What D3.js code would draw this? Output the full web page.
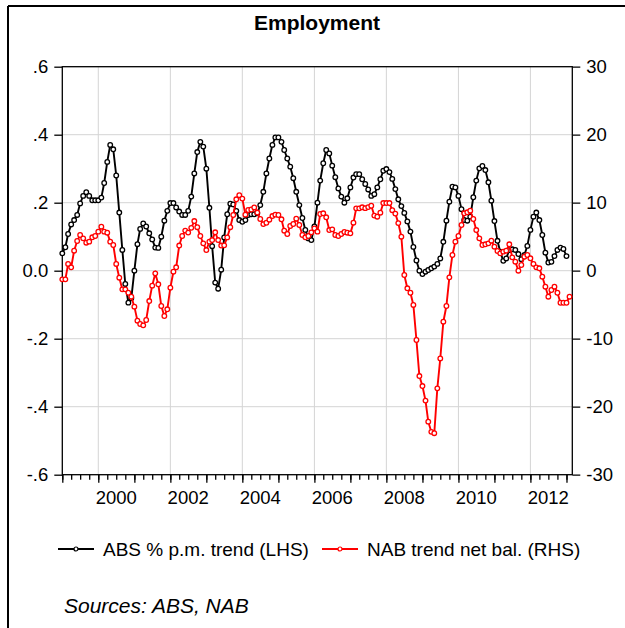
<!DOCTYPE html>
<html>
<head>
<meta charset="utf-8">
<script src="https://cdn.jsdelivr.net/npm/d3@7"></script>
<style>
  body { margin: 0; background: #fff; }
  svg { display: block; font-family: "Liberation Sans", Arial, sans-serif; }
</style>
</head>
<body>
<div id="chart"></div>
<script>
// monthly data, first observation Jan 1999
const startMonth = "1999-01";

// ABS employment, % per month, trend (left axis)
const absTrend = [
  0.051, 0.069, 0.108, 0.136, 0.149, 0.164, 0.198, 0.220, 0.231, 0.220, 0.207, 0.207,
  0.207, 0.215, 0.258, 0.320, 0.370, 0.357, 0.280, 0.171, 0.061, -0.039, -0.094, -0.081,
  0.000, 0.078, 0.123, 0.139, 0.130, 0.110, 0.092, 0.068, 0.067, 0.100, 0.147, 0.176,
  0.199, 0.199, 0.186, 0.174, 0.164, 0.164, 0.176, 0.218, 0.286, 0.349, 0.379, 0.365,
  0.300, 0.185, 0.072, -0.035, -0.053, 0.003, 0.098, 0.166, 0.197, 0.195, 0.176, 0.149,
  0.144, 0.149, 0.164, 0.166, 0.166, 0.169, 0.193, 0.232, 0.286, 0.330, 0.370, 0.392,
  0.392, 0.379, 0.355, 0.330, 0.306, 0.272, 0.232, 0.193, 0.155, 0.120, 0.095, 0.090,
  0.130, 0.200, 0.265, 0.316, 0.355, 0.345, 0.309, 0.275, 0.242, 0.218, 0.200, 0.213,
  0.245, 0.274, 0.284, 0.284, 0.269, 0.255, 0.239, 0.220, 0.225, 0.245, 0.269, 0.294,
  0.299, 0.290, 0.270, 0.240, 0.210, 0.190, 0.170, 0.145, 0.115, 0.070, 0.030, 0.000,
  -0.010, -0.003, 0.002, 0.007, 0.012, 0.020, 0.036, 0.085, 0.147, 0.203, 0.247, 0.245,
  0.220, 0.181, 0.149, 0.147, 0.159, 0.216, 0.265, 0.301, 0.308, 0.296, 0.260, 0.206,
  0.146, 0.088, 0.056, 0.029, 0.036, 0.061, 0.063, 0.061, 0.049, 0.034, 0.046, 0.073,
  0.120, 0.159, 0.171, 0.149, 0.105, 0.053, 0.024, 0.026, 0.043, 0.061, 0.068, 0.064,
  0.043
];

// NAB survey employment, trend net balance (right axis)
const nabTrend = [
  -1.27, -1.27, 0.99, 0.49, 2.94, 4.37, 5.25, 4.76, 4.12, 4.27, 4.91, 5.10,
  5.74, 6.47, 5.74, 5.59, 4.27, 3.78, 0.99, -1.03, -2.74, -2.74, -3.24, -3.82,
  -5.29, -7.35, -7.84, -8.04, -7.25, -4.46, -2.20, -0.39, -2.00, -5.19, -6.66, -5.68,
  -2.50, -0.15, 0.50, 3.70, 5.10, 5.90, 5.60, 6.30, 7.30, 6.40, 5.10, 4.02,
  3.04, 4.27, 4.51, 5.65, 4.51, 3.70, 3.73, 4.90, 6.40, 8.19, 10.50, 11.10,
  10.60, 8.24, 8.93, 9.00, 9.30, 8.55, 7.60, 6.85, 7.05, 7.50, 8.04, 8.24,
  8.19, 7.56, 5.88, 5.40, 6.57, 6.87, 7.65, 6.72, 5.25, 4.91, 5.10, 5.64,
  6.23, 5.74, 8.34, 8.44, 7.85, 5.98, 6.08, 5.25, 5.10, 5.40, 5.69, 5.59,
  5.49, 7.06, 9.17, 9.17, 9.32, 9.20, 9.35, 9.55, 8.10, 7.94, 8.53, 9.95,
  9.95, 9.95, 8.90, 8.40, 7.00, 5.00, -0.63, -2.59, -3.24, -5.04, -10.19, -15.49,
  -16.96, -19.10, -22.20, -23.70, -23.90, -17.30, -12.90, -7.50, -5.19, -0.98, 2.31, 4.27,
  5.10, 6.72, 8.44, 8.59, 8.82, 7.60, 5.98, 4.76, 3.78, 3.88, 4.02, 4.41,
  3.53, 2.90, 2.55, 2.80, 2.94, 3.88, 1.96, 1.32, 0.00, 0.84, 2.06, 2.31,
  1.82, 0.99, 0.49, 0.35, -0.88, -2.35, -3.82, -2.84, -2.35, -3.24, -4.71, -4.71,
  -4.71, -3.82
];

const leftTicks = [0.6, 0.4, 0.2, 0.0, -0.2, -0.4, -0.6];
const leftTickLabels = [".6", ".4", ".2", "0.0", "-.2", "-.4", "-.6"];
const rightTicks = [30, 20, 10, 0, -10, -20, -30];
const rightTickLabels = ["30", "20", "10", "0", "-10", "-20", "-30"];
const yearLabels = [2000, 2002, 2004, 2006, 2008, 2010, 2012];
const seriesNames = ["ABS % p.m. trend (LHS)", "NAB trend net bal. (RHS)"];
const seriesColors = ["#000000", "#ff0000"];

const W = 625, H = 628;
const plot = { left: 62.3, right: 572.3, top: 66.7, bottom: 474.7 };

const parseMonth = d3.timeParse("%Y-%m");
const start = parseMonth(startMonth);
const monthOf = i => d3.timeMonth.offset(start, i);

const svg = d3.select("#chart").append("svg")
  .attr("width", W).attr("height", H);

const x = d3.scaleTime()
  .domain([start, d3.timeMonth.offset(start, 170)])
  .range([plot.left, plot.right]);
const yL = d3.scaleLinear().domain([-0.6, 0.6]).range([plot.bottom, plot.top]);
const yR = d3.scaleLinear().domain([-30, 30]).range([plot.bottom, plot.top]);

// outer frame (top and left edges only visible)
svg.append("line").attr("x1", 8).attr("x2", W).attr("y1", 6).attr("y2", 6)
  .attr("stroke", "#000").attr("stroke-width", 2);
svg.append("line").attr("x1", 8).attr("x2", 8).attr("y1", 6).attr("y2", H)
  .attr("stroke", "#000").attr("stroke-width", 2);

// title
svg.append("text")
  .attr("x", 317).attr("y", 30)
  .attr("text-anchor", "middle")
  .style("font-size", "21px").style("font-weight", "bold")
  .text("Employment");

// grid
const grid = svg.append("g").attr("stroke", "#d4d4d4").attr("stroke-width", 1);
grid.selectAll("line.h")
  .data(leftTicks.filter(v => Math.abs(v) < 0.6))
  .enter().append("line")
  .attr("x1", plot.left).attr("x2", plot.right)
  .attr("y1", d => yL(d)).attr("y2", d => yL(d));
grid.selectAll("line.v")
  .data(yearLabels)
  .enter().append("line")
  .attr("x1", d => x(new Date(d, 0, 1))).attr("x2", d => x(new Date(d, 0, 1)))
  .attr("y1", plot.top).attr("y2", plot.bottom);

// left axis
const axL = svg.append("g")
  .attr("transform", `translate(${plot.left},0)`)
  .call(d3.axisLeft(yL).tickValues(leftTicks).tickSize(8).tickPadding(6)
    .tickFormat((d, i) => leftTickLabels[i]));
// right axis
const axR = svg.append("g")
  .attr("transform", `translate(${plot.right},0)`)
  .call(d3.axisRight(yR).tickValues(rightTicks).tickSize(8).tickPadding(6)
    .tickFormat((d, i) => rightTickLabels[i]));
// bottom axis: quarterly minor ticks, yearly major ticks
const quarters = d3.timeMonth.every(3).range(start, d3.timeMonth.offset(start, 170));
const years = d3.timeYear.range(start, d3.timeMonth.offset(start, 170));
const axB = svg.append("g")
  .attr("transform", `translate(0,${plot.bottom})`)
  .call(d3.axisBottom(x).tickValues(quarters).tickSize(5).tickFormat(""));
svg.append("g")
  .attr("transform", `translate(0,${plot.bottom})`)
  .call(d3.axisBottom(x).tickValues(years).tickSize(8).tickFormat(""))
  .select(".domain").remove();

[axL, axR, axB].forEach(a => {
  a.select(".domain").remove();
  a.selectAll("text").style("font-size", "18.5px").attr("fill", "#000");
});
svg.selectAll(".tick line").attr("stroke", "#000").attr("stroke-width", 1.3);

// clip the right labels like the source picture
svg.append("clipPath").attr("id", "rclip")
  .append("rect").attr("x", 0).attr("y", 0).attr("width", 612).attr("height", H);
axR.attr("clip-path", "url(#rclip)");

// year labels centered on the year
svg.append("g").selectAll("text")
  .data(yearLabels)
  .enter().append("text")
  .attr("x", d => x(new Date(d, 6, 1)))
  .attr("y", plot.bottom + 29)
  .attr("text-anchor", "middle")
  .style("font-size", "18.5px")
  .text(d => d);

// plot frame
svg.append("rect")
  .attr("x", plot.left).attr("y", plot.top)
  .attr("width", plot.right - plot.left).attr("height", plot.bottom - plot.top)
  .attr("fill", "none").attr("stroke", "#000").attr("stroke-width", 1.3);

// series
function drawSeries(values, yScale, color) {
  const pts = values.map((v, i) => ({ date: monthOf(i), v: v }));
  const line = d3.line().x(d => x(d.date)).y(d => yScale(d.v));
  svg.append("path")
    .datum(pts)
    .attr("d", line)
    .attr("fill", "none")
    .attr("stroke", color)
    .attr("stroke-width", 1.9);
  svg.append("g").selectAll("circle")
    .data(pts)
    .enter().append("circle")
    .attr("cx", d => x(d.date))
    .attr("cy", d => yScale(d.v))
    .attr("r", 2.3)
    .attr("fill", "#fff")
    .attr("stroke", color)
    .attr("stroke-width", 1.3);
}
drawSeries(absTrend, yL, seriesColors[0]);
drawSeries(nabTrend, yR, seriesColors[1]);

// legend
const legendItems = [
  { name: seriesNames[0], color: seriesColors[0], x0: 58 },
  { name: seriesNames[1], color: seriesColors[1], x0: 322 }
];
const lg = svg.append("g").attr("transform", "translate(0,549)");
legendItems.forEach(it => {
  lg.append("line").attr("x1", it.x0).attr("x2", it.x0 + 36)
    .attr("stroke", it.color).attr("stroke-width", 1.8);
  lg.append("circle").attr("cx", it.x0 + 18).attr("r", 2)
    .attr("fill", "#fff").attr("stroke", it.color).attr("stroke-width", 1.2);
  lg.append("text").attr("x", it.x0 + 45).attr("y", 7)
    .style("font-size", "19px").text(it.name);
});

// source note
svg.append("text")
  .attr("x", 64).attr("y", 613)
  .style("font-size", "21px").style("font-style", "italic")
  .text("Sources: ABS, NAB");
</script>
</body>
</html>
